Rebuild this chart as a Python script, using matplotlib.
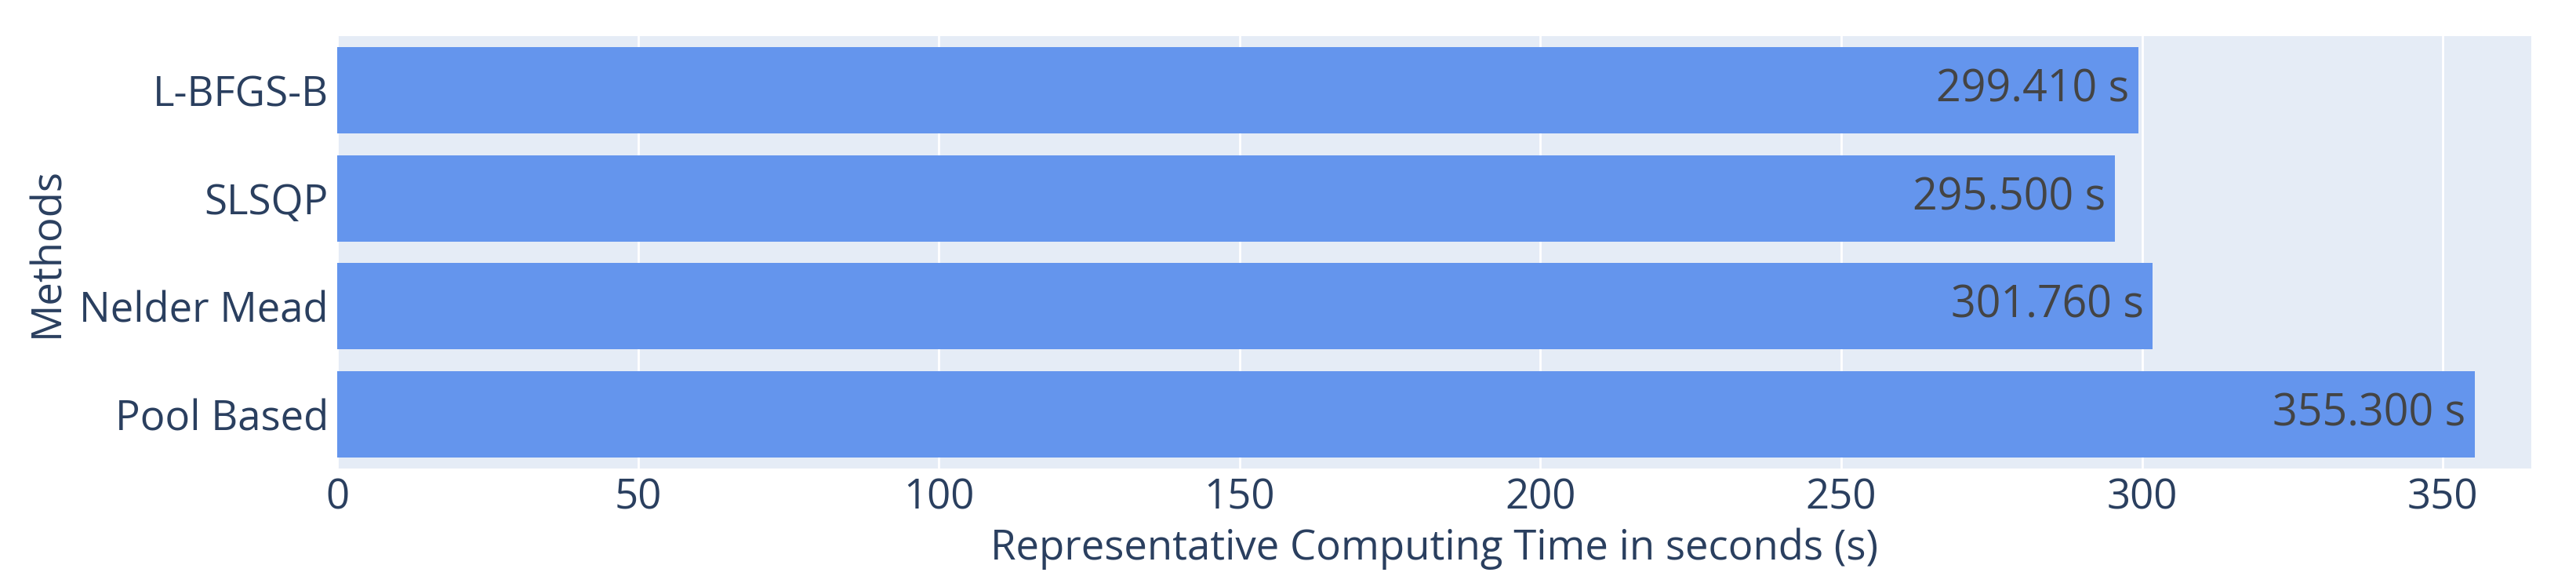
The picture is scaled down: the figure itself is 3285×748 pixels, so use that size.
import matplotlib
matplotlib.use("Agg")
import matplotlib.pyplot as plt

methods = ["L-BFGS-B", "SLSQP", "Nelder Mead", "Pool Based"]
times = [299.41, 295.5, 301.76, 355.3]
xticks = [0, 50, 100, 150, 200, 250, 300, 350]

plt.rcParams['font.family'] = ['Open Sans', 'DejaVu Sans']
W, H = 3285, 748
fig = plt.figure(figsize=(W / 100, H / 100), dpi=100)
ax = fig.add_axes([430 / W, 1 - 597 / H, (3228 - 430) / W, (597 - 46) / H])
ax.set_facecolor('#E5ECF6')

ypos = list(range(len(methods)))[::-1]
ax.barh(ypos, times, height=0.8, color='#6495ED', zorder=2)
for y, t in zip(ypos, times):
    ax.text(t - 1.5, y, f"{t:.3f} s", ha='right', va='center', fontsize=40, color='#444444', zorder=3)

ax.set_yticks(ypos)
ax.set_yticklabels(methods)
ax.set_xticks(xticks)
ax.set_xlim(0, 364.7)
ax.set_ylim(-0.5, 3.5)
ax.grid(axis='x', color='white', linewidth=2, zorder=1)
ax.set_axisbelow(True)
for s in ax.spines.values():
    s.set_visible(False)
ax.tick_params(length=0, labelsize=38, colors='#2a3f5f', pad=8)
ax.set_xlabel("Representative Computing Time in seconds (s)", fontsize=38, color='#2a3f5f', labelpad=8)
ax.set_ylabel("Methods", fontsize=38, color='#2a3f5f', labelpad=10)

fig.savefig("out.png", dpi=100, facecolor='white')
